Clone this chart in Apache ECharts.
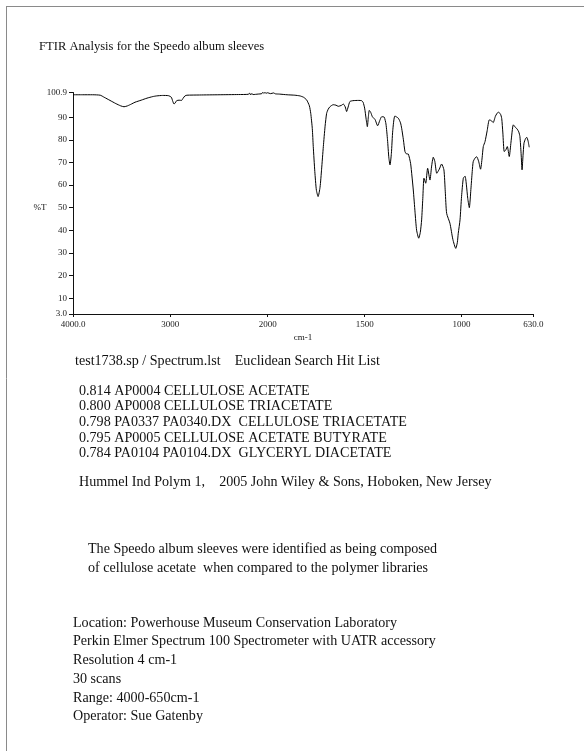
<!DOCTYPE html>
<html>
<head>
<meta charset="utf-8">
<script src="https://cdn.jsdelivr.net/npm/echarts@6/dist/echarts.min.js"></script>
<style>
  html, body { margin: 0; padding: 0; background: #ffffff; }
  #chart { width: 584px; height: 751px; }
</style>
</head>
<body>
<div id="chart"></div>
<script>
// FTIR spectrum of the album sleeve sample (wavenumber in cm-1, transmittance in %T)
const wavenumbers = [
  4000, 3900, 3800, 3720, 3680, 3620, 3560, 3510, 3476, 3440, 3400, 3363, 3300, 3240, 3180, 3140,
  3080, 3020, 2990, 2975, 2962, 2950, 2935, 2910, 2885, 2870, 2850, 2830, 2700, 2500, 2300, 2200,
  2185, 2175, 2165, 2150, 2100, 2060, 2050, 2040, 2030, 2015, 2000, 1985, 1970, 1960, 1940, 1900,
  1860, 1834, 1815, 1799, 1785, 1778, 1770, 1765, 1757, 1749, 1740, 1730, 1722, 1713, 1704, 1696,
  1688, 1679, 1662, 1648, 1636, 1620, 1610, 1600, 1593, 1585, 1576, 1560, 1530, 1516, 1508, 1500,
  1492, 1486, 1481, 1476, 1468, 1460, 1446, 1433, 1422, 1412, 1399, 1390, 1382, 1375, 1369, 1362,
  1355, 1344, 1326, 1315, 1309, 1300, 1292, 1285, 1275, 1263, 1256, 1249, 1240, 1232, 1221, 1213,
  1206, 1200, 1194, 1185, 1175, 1163, 1155, 1146, 1138, 1128, 1115, 1103, 1091, 1084, 1077, 1060,
  1045, 1030, 1022, 1017, 1008, 1000, 991, 982, 975, 968, 960, 952, 945, 940, 930, 922,
  912, 902, 894, 888, 879, 868, 857, 847, 837, 825, 811, 800, 793, 787, 780, 772,
  764, 754, 745, 733, 722, 713, 705, 699, 693, 688, 683, 678, 670, 664, 657, 651
];
const transmittance = [
  99.9, 99.9, 99.9, 99.7, 98.8, 97.4, 96.0, 95.0, 94.6, 95.0, 95.8, 96.6, 97.5, 98.4, 99.1, 99.4,
  99.6, 99.5, 98.8, 97.0, 95.8, 96.3, 97.3, 97.5, 97.4, 98.3, 99.4, 99.7, 99.8, 99.9, 100.0, 100.1,
  100.6, 99.8, 100.4, 100.0, 100.2, 100.4, 101.0, 100.5, 100.9, 100.6, 100.8, 100.4, 100.7, 100.3, 100.2, 99.9,
  99.7, 99.4, 98.8, 97.6, 95.0, 91.7, 85.0, 77.0, 66.0, 57.8, 54.9, 59.0, 67.0, 77.0, 86.0, 91.7,
  93.5, 94.6, 95.5, 95.3, 94.8, 95.2, 95.8, 94.5, 92.5, 94.5, 96.9, 97.3, 97.4, 97.3, 96.6, 94.0,
  89.0, 85.8, 90.0, 93.0, 92.0, 90.2, 88.9, 86.2, 88.5, 90.2, 90.0, 87.0, 80.0, 72.0, 68.9, 74.0,
  84.0, 90.5, 89.5, 87.5, 85.1, 80.0, 74.8, 73.8, 73.7, 69.6, 64.0, 57.8, 48.0, 40.1, 36.5, 39.0,
  44.6, 54.0, 63.0, 60.8, 67.4, 62.2, 68.0, 72.3, 70.5, 65.2, 67.0, 69.3, 66.7, 57.0, 47.5, 43.1,
  36.0, 32.0, 34.5, 38.7, 44.6, 55.0, 63.0, 63.9, 60.0, 54.0, 50.0, 58.0, 66.0, 70.3, 72.0, 72.5,
  70.5, 67.0, 72.0, 77.0, 79.2, 84.0, 88.8, 88.5, 87.6, 90.5, 92.2, 91.5, 89.5, 83.0, 74.8, 75.5,
  77.0, 72.6, 79.0, 86.6, 85.5, 84.7, 83.5, 81.4, 74.0, 66.7, 73.0, 78.5, 80.5, 81.1, 79.5, 76.7
];

// Axis ticks: the wavenumber scale is expanded below 2000 cm-1
const highRangeTicks = [4000, 3000, 2000];
const lowRangeTicks = [2000, 1500, 1000, 630];
const xTickText = { 4000: '4000.0', 3000: '3000', 2000: '2000', 1500: '1500', 1000: '1000', 630: '630.0' };
const yTicks = [3, 10, 20, 30, 40, 50, 60, 70, 80, 90, 100.9];
const yTickText = { 3: '3.0', 100.9: '100.9' };

// Report text
const titleText = 'FTIR Analysis for the Speedo album sleeves';
const yAxisTitle = '%T';
const xAxisTitle = 'cm-1';
const hitHeader = 'test1738.sp / Spectrum.lst    Euclidean Search Hit List';
const hitList = [
  '0.814 AP0004 CELLULOSE ACETATE',
  '0.800 AP0008 CELLULOSE TRIACETATE',
  '0.798 PA0337 PA0340.DX  CELLULOSE TRIACETATE',
  '0.795 AP0005 CELLULOSE ACETATE BUTYRATE',
  '0.784 PA0104 PA0104.DX  GLYCERYL DIACETATE'
];
const libraryLine = 'Hummel Ind Polym 1,    2005 John Wiley & Sons, Hoboken, New Jersey';
const conclusionLines = [
  'The Speedo album sleeves were identified as being composed',
  'of cellulose acetate  when compared to the polymer libraries'
];
const methodLines = [
  'Location: Powerhouse Museum Conservation Laboratory',
  'Perkin Elmer Spectrum 100 Spectrometer with UATR accessory',
  'Resolution 4 cm-1',
  '30 scans',
  'Range: 4000-650cm-1',
  'Operator: Sue Gatenby'
];

const SERIF = '"Liberation Serif", "DejaVu Serif", serif';
const INK = '#111111';

const points = wavenumbers.map((w, i) => [w, transmittance[i]]);
const highPoints = points.filter(p => p[0] >= 2000);
const lowPoints = points.filter(p => p[0] <= 2000);

const plotTop = 92.5, plotHeight = 221.5;

function xAxisFor(gridIndex, min, max, ticks) {
  return {
    type: 'value', gridIndex, min, max, inverse: true,
    splitLine: { show: false },
    axisLine: { show: true, lineStyle: { color: INK, width: 1 } },
    axisTick: { show: true, length: 3, customValues: ticks, lineStyle: { color: INK } },
    axisLabel: {
      show: true, customValues: ticks, margin: 6,
      fontFamily: SERIF, fontSize: 9, color: '#222',
      formatter: v => (gridIndex === 0 && v === 2000) ? '' : xTickText[v]
    }
  };
}

const chart = echarts.init(document.getElementById('chart'), null, { renderer: 'canvas' });

const graphics = [];
function addText(text, x, y, size) {
  graphics.push({
    type: 'text', x, y,
    style: { text, font: size + 'px ' + SERIF, fill: INK, verticalAlign: 'middle', align: 'left' }
  });
}
// page frame
graphics.push({ type: 'line', shape: { x1: 6.5, y1: 6, x2: 6.5, y2: 751 }, style: { stroke: '#8a8a8a', lineWidth: 1 } });
graphics.push({ type: 'line', shape: { x1: 6, y1: 6.5, x2: 584, y2: 6.5 }, style: { stroke: '#8a8a8a', lineWidth: 1 } });

addText(titleText, 39, 47, 12.6);
graphics.push({ type: 'text', x: 40, y: 208, style: { text: yAxisTitle, font: '9px ' + SERIF, fill: INK, align: 'center', verticalAlign: 'middle' } });
graphics.push({ type: 'text', x: 303, y: 338, style: { text: xAxisTitle, font: '9px ' + SERIF, fill: INK, align: 'center', verticalAlign: 'middle' } });
addText(hitHeader, 75, 361, 14.1);
hitList.forEach((t, i) => addText(t, 79, 391 + i * 15.6, 14.1));
addText(libraryLine, 79, 482, 14.1);
conclusionLines.forEach((t, i) => addText(t, 88, 549 + i * 19, 14.1));
methodLines.forEach((t, i) => addText(t, 73, 623 + i * 18.7, 14.1));

chart.setOption({
  animation: false,
  backgroundColor: '#ffffff',
  grid: [
    { left: 73, top: plotTop, width: 194.7, height: plotHeight, containLabel: false },
    { left: 267.7, top: plotTop, width: 265.6, height: plotHeight, containLabel: false }
  ],
  xAxis: [
    xAxisFor(0, 2000, 4000, highRangeTicks),
    xAxisFor(1, 630, 2000, lowRangeTicks)
  ],
  yAxis: [
    {
      type: 'value', gridIndex: 0, min: 3, max: 100.9,
      splitLine: { show: false },
      axisLine: { show: true, lineStyle: { color: INK, width: 1 } },
      axisTick: { show: true, length: 4, customValues: yTicks, lineStyle: { color: INK } },
      axisLabel: {
        show: true, customValues: yTicks, margin: 6,
        fontFamily: SERIF, fontSize: 9, color: '#222',
        padding: [0, 0, 3, 0],
        formatter: v => yTickText[v] || String(v)
      }
    },
    {
      type: 'value', gridIndex: 1, min: 3, max: 100.9,
      show: false, splitLine: { show: false }
    }
  ],
  series: [
    {
      type: 'line', xAxisIndex: 0, yAxisIndex: 0, data: highPoints,
      showSymbol: false, smooth: 0.2, lineStyle: { color: '#000', width: 1 }
    },
    {
      type: 'line', xAxisIndex: 1, yAxisIndex: 1, data: lowPoints,
      showSymbol: false, smooth: 0.2, lineStyle: { color: '#000', width: 1 }
    }
  ],
  graphic: graphics
});
</script>
</body>
</html>
